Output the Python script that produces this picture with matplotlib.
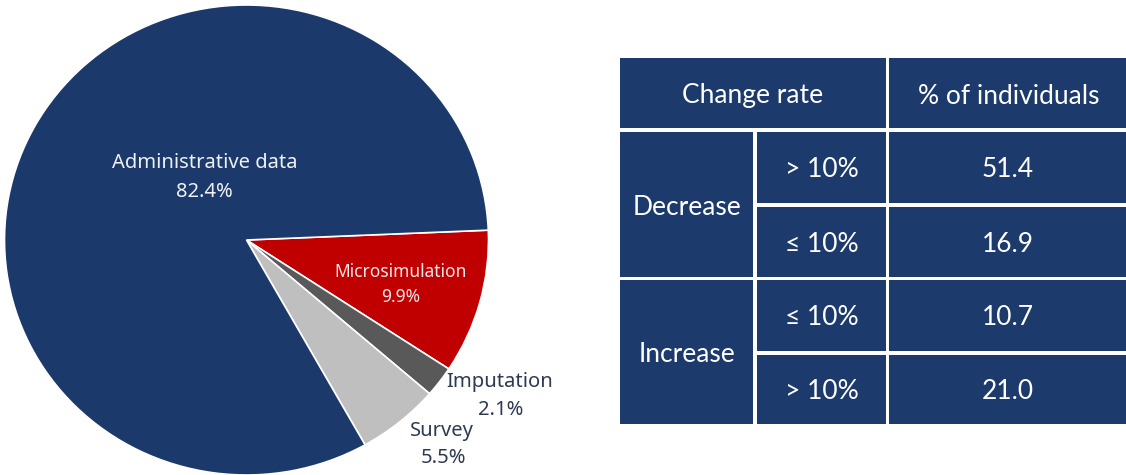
import matplotlib
matplotlib.use("Agg")
import matplotlib.pyplot as plt
from matplotlib.patches import Rectangle

# Pie data: share of each data source
sources = ["Microsimulation", "Imputation", "Survey", "Administrative data"]
shares = [9.9, 2.1, 5.5, 82.4]
slice_colors = ["#c00000", "#595959", "#bfbfbf", "#1b3a6b"]

# Table data: distribution of change rates
groups = ["Decrease", "Increase"]
bands = ["> 10%", "≤ 10%", "≤ 10%", "> 10%"]
pct_individuals = [51.4, 16.9, 10.7, 21.0]
headers = ["Change rate", "% of individuals"]

W, H = 1126, 475
fig = plt.figure(figsize=(W / 100, H / 100), dpi=100)
fig.patch.set_facecolor("white")

# Pie axes (pixel box: x 4.5..488.5, y 5..475)
pax = fig.add_axes([4.5 / W, 0.0, 484 / W, 470 / H])
wedges, _ = pax.pie(shares, colors=slice_colors, startangle=2.4,
                    counterclock=False, radius=1.0,
                    wedgeprops=dict(edgecolor="white", linewidth=1.2))
pax.set_aspect("auto")
pax.set_xlim(-1, 1)
pax.set_ylim(-1, 1)
pax.axis("off")

# Overlay axes in pixel coordinates for labels and table
ax = fig.add_axes([0, 0, 1, 1], facecolor="none")
ax.set_xlim(0, W)
ax.set_ylim(H, 0)
ax.axis("off")

pie_font = "Noto Sans"
light = "#eef0f4"
dark = "#2e3a50"
label_pos = {
    "Administrative data": ((205, 163), (204, 192), light, 14.5),
    "Microsimulation": ((401, 272), (401, 297), "#f6e6e6", 12.5),
    "Imputation": ((500, 382), (501, 410), dark, 14.5),
    "Survey": ((442, 431), (443, 458), dark, 14.5),
}
for name, val in zip(sources, shares):
    (x1, y1), (x2, y2), c, fs = label_pos[name]
    ax.text(x1, y1, name, ha="center", va="center", fontsize=fs,
            family=pie_font, color=c)
    ax.text(x2, y2, f"{val}%", ha="center", va="center", fontsize=fs,
            family=pie_font, color=c)

# Table cells
cell = "#1c3a6c"
tab_font = "Lato"
tab_fs = 19

def box(x0, y0, x1, y1):
    ax.add_patch(Rectangle((x0, y0), x1 - x0, y1 - y0, facecolor=cell,
                           edgecolor="none"))

c1 = (620, 753)
c2 = (757, 886)
c3 = (889, 1126)
header_y = (58, 128)
rows_y = [(132, 203), (207, 277), (280, 351), (355, 424)]

box(c1[0], header_y[0], c2[1], header_y[1])
box(c3[0], header_y[0], c3[1], header_y[1])
ax.text((c1[0] + c2[1]) / 2, 96, headers[0], ha="center", va="center",
        fontsize=tab_fs, family=tab_font, color="white")
ax.text((c3[0] + c3[1]) / 2 + 1, 96, headers[1], ha="center", va="center",
        fontsize=tab_fs, family=tab_font, color="white")

for g, name in enumerate(groups):
    top = rows_y[2 * g][0]
    bot = rows_y[2 * g + 1][1]
    box(c1[0], top, c1[1], bot)
    ax.text((c1[0] + c1[1]) / 2 + 0.5, (top + bot) / 2 + 3, name,
            ha="center", va="center", fontsize=tab_fs, family=tab_font,
            color="white")

for (y0, y1), band, val in zip(rows_y, bands, pct_individuals):
    box(c2[0], y0, c2[1], y1)
    box(c3[0], y0, c3[1], y1)
    ym = (y0 + y1) / 2 + 2
    ax.text((c2[0] + c2[1]) / 2, ym, band, ha="center", va="center",
            fontsize=tab_fs, family=[tab_font, "DejaVu Sans"], color="white")
    ax.text((c3[0] + c3[1]) / 2, ym, f"{val:.1f}", ha="center", va="center",
            fontsize=tab_fs, family=tab_font, color="white")

fig.savefig("out.png", dpi=100, facecolor="white")
